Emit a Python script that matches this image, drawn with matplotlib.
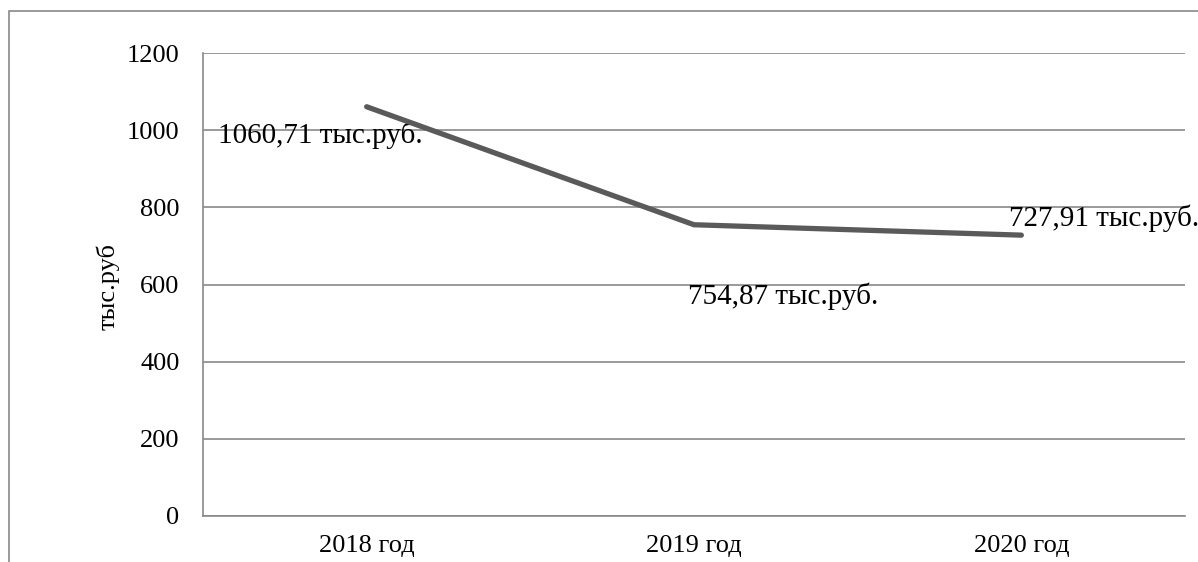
import matplotlib.pyplot as plt
from matplotlib.patches import Rectangle

plt.rcParams['font.family'] = ['Liberation Serif', 'DejaVu Serif']

years = ['2018 год', '2019 год', '2020 год']
values = [1060.71, 754.87, 727.91]
labels = ['1060,71 тыс.руб.', '754,87 тыс.руб.', '727,91 тыс.руб.']
yticks = [0, 200, 400, 600, 800, 1000, 1200]

W, H = 1198, 562
fig = plt.figure(figsize=(W / 100, H / 100), dpi=100)
ax = fig.add_axes([203 / W, 1 - 516 / H, (1185 - 203) / W, (516 - 53) / H])

grid_col = '#898989'

# frame around the chart area (runs off the right and bottom edges)
fig.patches.append(Rectangle((9 / W, -0.1), 1.2, 1 - 11 / H + 0.1,
                             transform=fig.transFigure, fill=False,
                             edgecolor=grid_col, linewidth=1.2, clip_on=False))

x = list(range(len(years)))
ax.plot(x, values, color='#5a5a5a', linewidth=3.8, solid_capstyle='round', zorder=3)

ax.set_xlim(-0.5, len(years) - 0.5)
ax.set_ylim(0, 1200)
ax.set_yticks(yticks)
ax.set_xticks(x)
ax.set_xticklabels(years)
ax.yaxis.grid(True, color=grid_col, linewidth=1.2)
ax.set_axisbelow(True)
ax.tick_params(axis='both', length=0, labelsize=19, colors='black')
ax.tick_params(axis='y', pad=17)
ax.tick_params(axis='x', pad=14)
for s in ['top', 'right']:
    ax.spines[s].set_visible(False)
for s in ['left', 'bottom']:
    ax.spines[s].set_color(grid_col)
    ax.spines[s].set_linewidth(1.2)

fig.text(108 / W, 1 - 286 / H, 'тыс.руб', rotation=90, ha='center', va='center', fontsize=19)

# value labels, left edge offset from each point
offsets = [(-107, -26), (-4.3, -57), (-8.6, 6.5)]
for xi, v, lab, (dx, dy) in zip(x, values, labels, offsets):
    ax.annotate(lab, (xi, v), xytext=(dx, dy), textcoords='offset points',
                ha='left', va='baseline', fontsize=21, annotation_clip=False, zorder=2)

fig.savefig('out.png', dpi=100)
